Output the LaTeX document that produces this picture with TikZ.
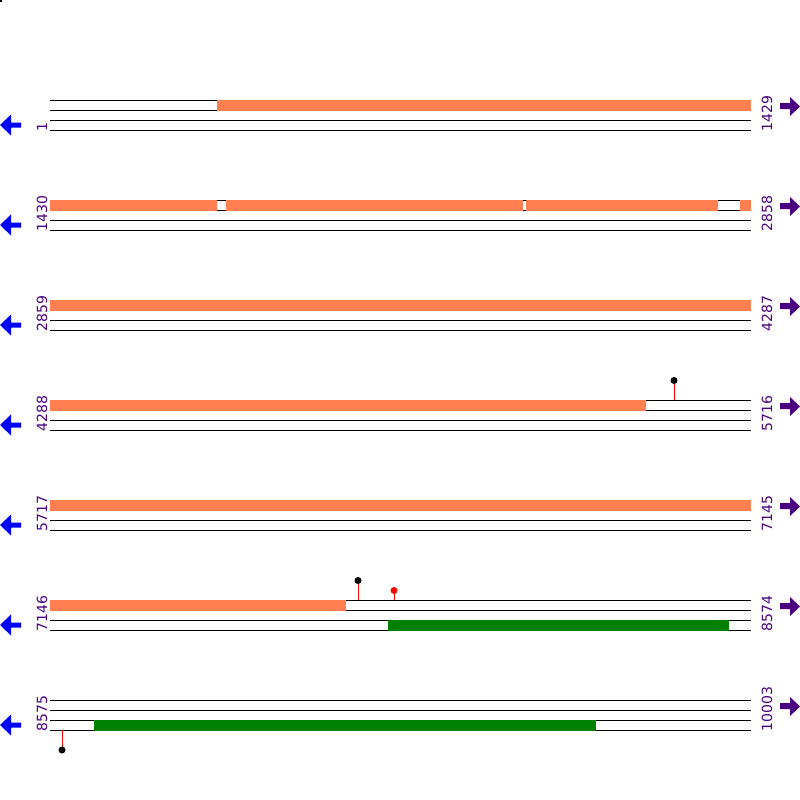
\documentclass[tikz,border=0pt]{standalone}
\usepackage{fontspec}
\setmainfont{DejaVu Sans}
\definecolor{coralbar}{HTML}{FF7F50}
\definecolor{genebar}{HTML}{008000}
\definecolor{indigolab}{HTML}{4B0082}
\definecolor{bluearr}{HTML}{0000FF}
\begin{document}
\begin{tikzpicture}[x=1pt,y=-1pt,
  track/.style={draw=black,line width=1pt},
  orangebar/.style={fill=coralbar,draw=none},
  greenbar/.style={fill=genebar,draw=none},
  numlab/.style={rotate=90,anchor=base west,inner sep=0pt,text=indigolab,font=\fontsize{14}{14}\selectfont},
  stick/.style={draw=red,line width=1pt},
  blackdot/.style={fill=black,draw=none},
  reddot/.style={fill=red,draw=none},
  leftarr/.style={fill=bluearr,draw=none},
  rightarr/.style={fill=indigolab,draw=none}]
\useasboundingbox[fill=white] (0,0) rectangle (800,800);
\fill[black] (0,0) rectangle (2,2);
% rows
\foreach \r/\a/\b in {100/1/1429,200/1430/2858,300/2859/4287,400/4288/5716,500/5717/7145,600/7146/8574,700/8575/10003}{
  \foreach \k in {0,10,20,30}{
    \coordinate (l\r-\k) at (50,\r+\k);
    \coordinate (r\r-\k) at (751,\r+\k);
    \draw[track] (l\r-\k) -- (r\r-\k);
  }
  \node[numlab] (la\r) at (47,\r+31.5) {\a};
  \node[numlab] (lb\r) at (772,\r+31.5) {\b};
  \fill[leftarr] (0,\r+25) -- (11,\r+14.5) -- (11,\r+22.5) -- (21,\r+22.5) -- (21,\r+27.5) -- (11,\r+27.5) -- (11,\r+35.5) -- cycle;
  \fill[rightarr] (800,\r+6.5) -- (790,\r-3) -- (790,\r+3) -- (780,\r+3) -- (780,\r+9) -- (790,\r+9) -- (790,\r+16) -- cycle;
}
% orange bars
\fill[orangebar] (217,99.5) rectangle (751,110.5);
\fill[orangebar] (50,199.5) rectangle (217,210.5);
\fill[orangebar] (226,199.5) rectangle (523,210.5);
\fill[orangebar] (526,199.5) rectangle (717.5,210.5);
\fill[orangebar] (740,199.5) rectangle (751,210.5);
\fill[orangebar] (50,299.5) rectangle (751,310.5);
\fill[orangebar] (50,399.5) rectangle (646,410.5);
\fill[orangebar] (50,499.5) rectangle (751,510.5);
\fill[orangebar] (50,599.5) rectangle (346,610.5);
% green bars
\fill[greenbar] (388,619.5) rectangle (729,630.5);
\fill[greenbar] (94,719.5) rectangle (596,730.5);
% lollipops
\draw[stick] (674,400) -- (674,383);
\fill[blackdot] (674,380.5) circle (3.5);
\draw[stick] (358,600) -- (358,583);
\fill[blackdot] (358,580.5) circle (3.5);
\draw[stick] (394,600) -- (394,593);
\fill[reddot] (394,590.5) circle (3.5);
\draw[stick] (62,730) -- (62,747);
\fill[blackdot] (62,750) circle (3.5);
\end{tikzpicture}
\end{document}
